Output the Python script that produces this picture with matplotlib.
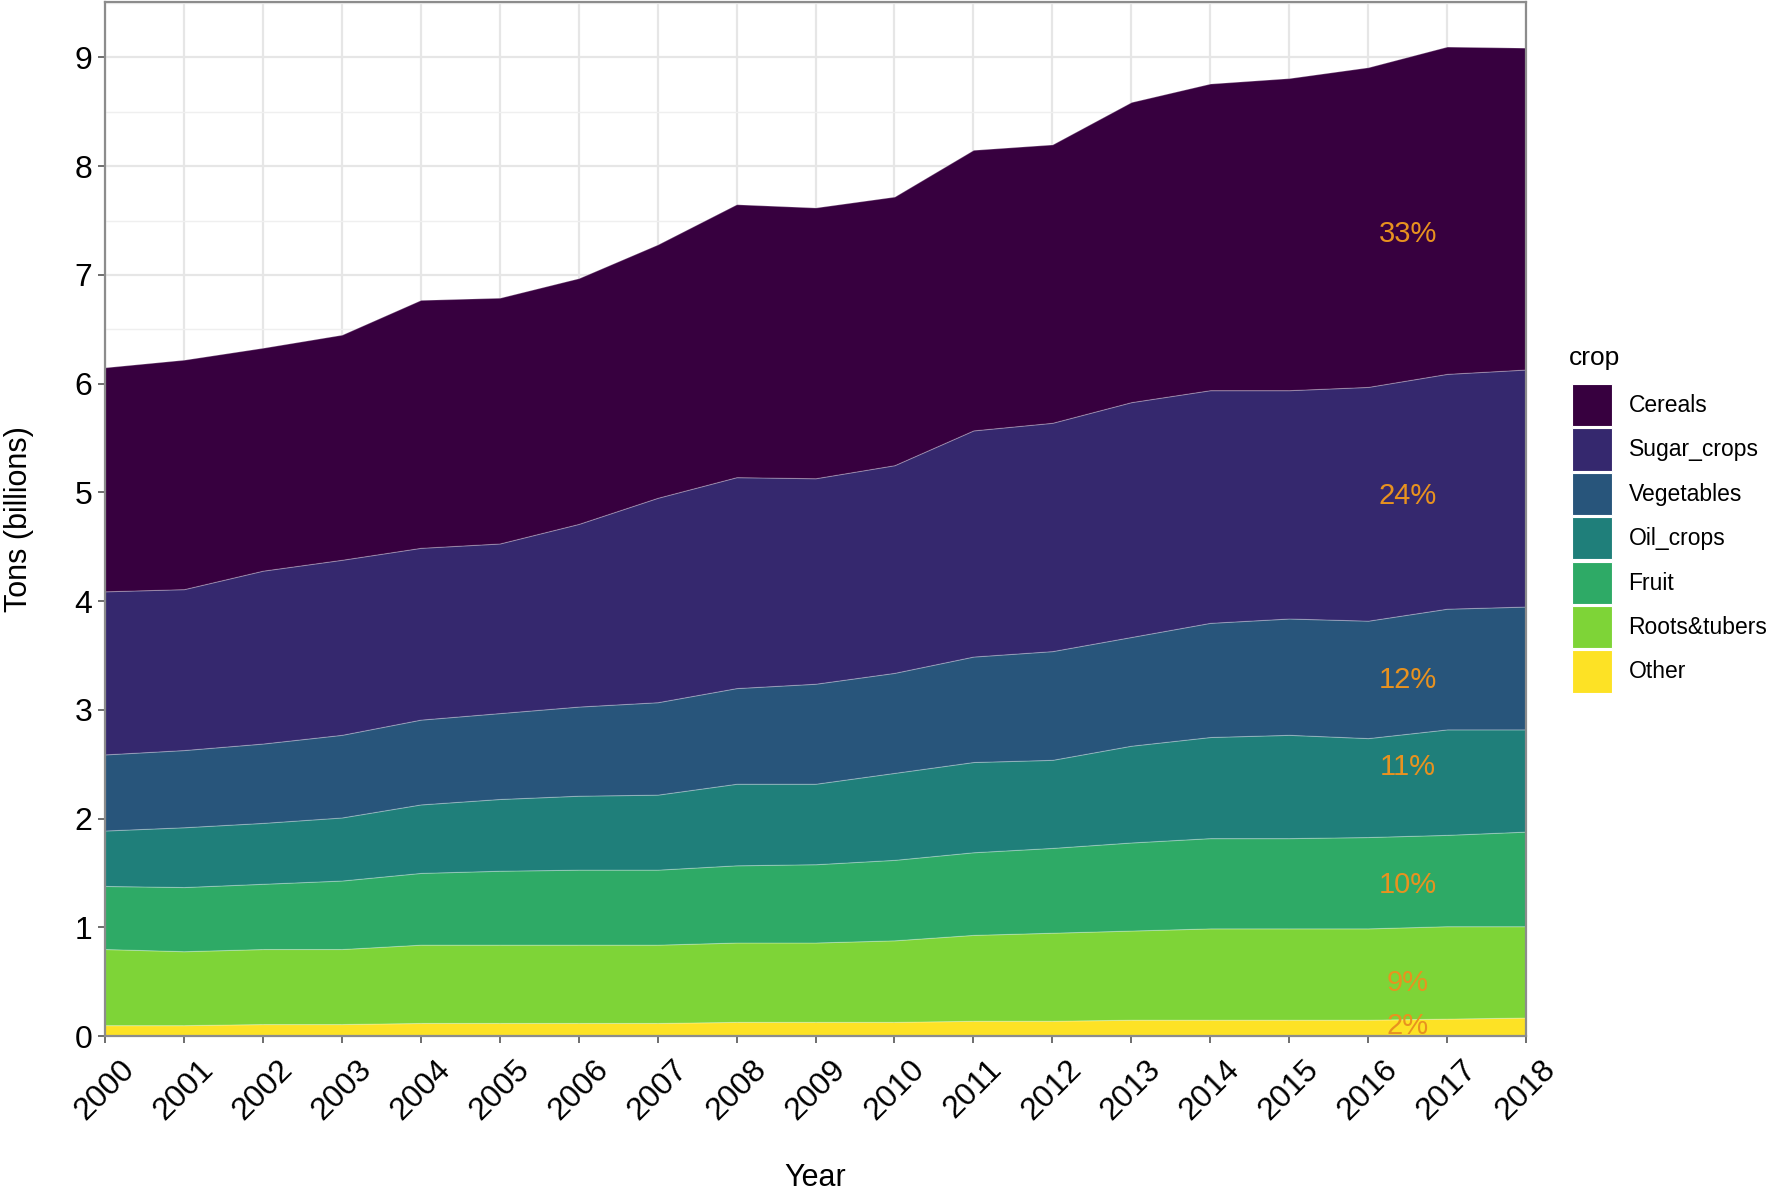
import matplotlib.pyplot as plt
from matplotlib.patches import Patch
from matplotlib.ticker import MultipleLocator

plt.rcParams['font.family'] = ['Liberation Sans', 'DejaVu Sans']

# данные (млрд тонн)
years = list(range(2000, 2019))
other = [0.10, 0.10, 0.11, 0.11, 0.12, 0.12, 0.12, 0.12, 0.13, 0.13,
         0.13, 0.14, 0.14, 0.15, 0.15, 0.15, 0.15, 0.16, 0.17]
roots = [0.70, 0.68, 0.69, 0.69, 0.72, 0.72, 0.72, 0.72, 0.73, 0.73,
         0.75, 0.79, 0.81, 0.82, 0.84, 0.84, 0.84, 0.85, 0.84]
fruit = [0.58, 0.59, 0.60, 0.63, 0.66, 0.68, 0.69, 0.69, 0.71, 0.72,
         0.74, 0.76, 0.78, 0.81, 0.83, 0.83, 0.84, 0.84, 0.87]
oil = [0.51, 0.55, 0.56, 0.58, 0.63, 0.66, 0.68, 0.69, 0.75, 0.74,
       0.80, 0.83, 0.81, 0.89, 0.93, 0.95, 0.91, 0.97, 0.94]
vegetables = [0.70, 0.71, 0.73, 0.76, 0.78, 0.79, 0.82, 0.85, 0.88, 0.92,
              0.92, 0.97, 1.00, 1.00, 1.05, 1.07, 1.08, 1.11, 1.13]
sugar = [1.50, 1.48, 1.59, 1.61, 1.58, 1.56, 1.68, 1.88, 1.94, 1.89,
         1.91, 2.08, 2.10, 2.16, 2.14, 2.10, 2.15, 2.16, 2.18]
cereals = [2.06, 2.11, 2.05, 2.07, 2.28, 2.26, 2.26, 2.33, 2.51, 2.49,
           2.47, 2.58, 2.56, 2.76, 2.82, 2.87, 2.94, 3.01, 2.96]

crops = ['Cereals', 'Sugar_crops', 'Vegetables', 'Oil_crops', 'Fruit', 'Roots&tubers', 'Other']
colors = ['#37003f', '#35286e', '#28557b', '#1f7f7a', '#2eaa66', '#7ed437', '#fde225']

# подписи с долями
pct_labels = ['33%', '24%', '12%', '11%', '10%', '9%', '2%']
pct_x = 2016.5
pct_y = [7.38, 4.97, 3.27, 2.47, 1.39, 0.49, 0.09]

fig = plt.figure(figsize=(17.7, 11.91), dpi=100)
ax = fig.add_axes([105/1770, 1 - 1036/1191, (1526 - 105)/1770, (1036 - 2)/1191])

# снизу вверх
stack = [other, roots, fruit, oil, vegetables, sugar, cereals]
ax.stackplot(years, *stack, colors=colors[::-1], edgecolor=(1, 1, 1, 0.25), linewidth=0.8, zorder=2)

for lab, y in zip(pct_labels, pct_y):
    ax.text(pct_x, y, lab, color='#e8921f', fontsize=21, ha='center', va='center', zorder=3)

ax.set_xlim(2000, 2018)
ax.set_ylim(0, 9.51)
ax.set_xticks(years)
ax.set_xticklabels([str(y) for y in years], rotation=45, ha='center', va='top')
ax.yaxis.set_major_locator(MultipleLocator(1))
ax.yaxis.set_minor_locator(MultipleLocator(0.5))
ax.grid(True, which='major', color='#e6e6e6', linewidth=1.6, zorder=0)
ax.grid(True, which='minor', axis='y', color='#efefef', linewidth=1.0, zorder=0)
ax.set_axisbelow(True)
ax.tick_params(axis='both', which='major', labelsize=23, length=5, width=1.2, color='#555555', pad=4)
ax.tick_params(axis='x', which='major', pad=8)
ax.tick_params(axis='y', which='minor', length=0)
for s in ax.spines.values():
    s.set_color('#8c8c8c')
    s.set_linewidth(1.6)
    s.set_zorder(4)

ax.set_xlabel('Year', fontsize=22, labelpad=27)
ax.set_ylabel('Tons (billions)', fontsize=22, labelpad=29)

# легенда
fig.text(1569/1770, 1 - 365/1191, 'crop', fontsize=19, ha='left', va='baseline')
handles = [Patch(facecolor=c, edgecolor='white', linewidth=0.8) for c in colors]
fig.legend(handles, crops, loc='upper left', bbox_to_anchor=(1572/1770, 1 - 384/1191),
           frameon=False, fontsize=16.5,
           handlelength=1.75, handleheight=2.45, labelspacing=0.1, handletextpad=0.72,
           borderpad=0, borderaxespad=0)

fig.savefig('out.png', dpi=100)
